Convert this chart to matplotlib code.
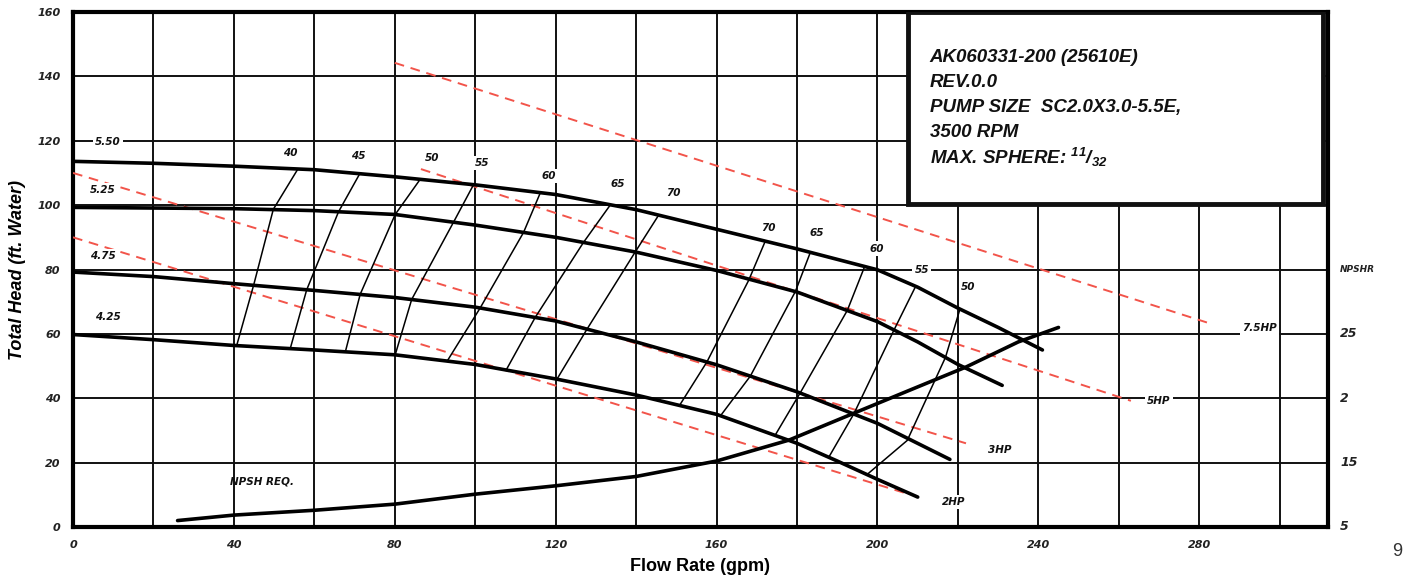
import numpy as np
import matplotlib.pyplot as plt
from matplotlib.patches import Rectangle

plt.rcParams['font.family'] = ['Liberation Sans', 'DejaVu Sans']
plt.rcParams['mathtext.fontset'] = 'custom'
plt.rcParams['mathtext.rm'] = 'Liberation Sans:bold:italic'
plt.rcParams['mathtext.it'] = 'Liberation Sans:bold:italic'

# ==============================
# Impeller curves (flow gpm, head ft)
# ==============================
flow_550 = [0, 20, 40, 60, 80, 100, 120, 140, 160, 180, 200, 210, 220, 230, 241]
head_550 = [113.6, 113.0, 112.1, 111.0, 108.8, 106.3, 103.3, 98.6, 92.5, 86.4, 79.9, 74.5, 68.0, 62.0, 55.0]

flow_525 = [0, 40, 60, 80, 100, 120, 140, 160, 180, 200, 210, 220, 231]
head_525 = [99.3, 98.9, 98.3, 97.1, 93.8, 90.0, 85.4, 79.7, 73.0, 63.8, 57.5, 50.5, 44.0]

flow_475 = [0, 20, 40, 60, 80, 100, 120, 140, 160, 180, 200, 218]
head_475 = [79.2, 77.8, 75.6, 73.5, 71.3, 68.3, 64.0, 57.5, 50.4, 42.0, 32.2, 21.0]

flow_425 = [0, 20, 40, 60, 80, 100, 120, 140, 160, 180, 190, 200, 210]
head_425 = [59.8, 58.2, 56.4, 55.0, 53.5, 50.5, 46.0, 41.0, 35.0, 26.0, 20.5, 14.8, 9.3]

impeller_names = ['5.50', '5.25', '4.75', '4.25']
impeller_label_pos = [(8.7, 119.7), (7.5, 104.8), (7.5, 84.3), (8.7, 65.1)]

# NPSH required
flow_npsh = [26, 40, 60, 80, 100, 120, 140, 160, 178, 195, 208, 222, 235, 245]
head_npsh = [2.0, 3.7, 5.2, 7.1, 10.2, 12.8, 15.7, 20.5, 27.0, 35.8, 42.5, 49.7, 57.5, 62.0]

# ==============================
# Efficiency lines: points on 5.50, 5.25, 4.75, 4.25
# ==============================
eff_names = ['40', '45', '50', '55', '60', '65', '70', '70', '65', '60', '55', '50']
eff_flows = [
    [55.9, 49.8, 44.9, 40.7],
    [71.4, 66.0, 58.1, 54.0],
    [86.3, 80.1, 71.4, 67.7],
    [99.6, 94.6, 84.2, 80.1],
    [116.2, 112.0, 101.2, 93.0],
    [133.6, 126.9, 114.9, 107.7],
    [145.6, 139.8, 127.8, 120.3],
    [172.1, 168.0, 157.6, 151.0],
    [183.3, 179.6, 168.4, 161.0],
    [196.8, 192.5, 180.8, 174.6],
    [209.5, 204.1, 194.1, 187.9],
    [220.5, 216.9, 207.4, 197.4],
]
eff_heads = [
    [111.2, 98.7, 75.1, 56.4],
    [110.0, 97.9, 73.7, 55.4],
    [108.0, 97.1, 72.3, 54.4],
    [106.4, 94.7, 70.7, 53.5],
    [103.9, 91.5, 68.0, 51.5],
    [100.1, 88.4, 65.1, 48.8],
    [96.9, 85.5, 61.5, 45.9],
    [88.8, 76.7, 51.3, 38.2],
    [85.3, 73.2, 46.9, 34.6],
    [80.9, 67.3, 41.7, 28.6],
    [74.8, 61.2, 35.1, 21.7],
    [67.7, 52.7, 26.9, 16.3],
]
eff_label_pos = [(54.0, 116.3), (70.9, 115.3), (89.3, 114.7), (101.7, 113.2),
                 (118.2, 109.1), (135.3, 106.7), (149.3, 103.9),
                 (172.9, 93.0), (185.0, 91.2), (199.8, 86.5), (211.0, 79.7), (222.6, 74.7)]

# ==============================
# Power lines (HP)
# ==============================
hp_names = ['7.5HP', '5HP', '3HP', '2HP']
hp_flows = [[80, 282], [86.5, 263], [0, 222], [0, 207]]
hp_heads = [[144.2, 63.5], [111.2, 39.2], [110.0, 26.0], [90.0, 10.5]]
hp_label_pos = [(295.0, 61.7), (270.0, 39.0), (230.3, 23.9), (219.0, 7.8)]

# right side NPSHR scale labels
npshr_labels = ['NPSHR', '25', '2', '15', '5']
npshr_pos = [80, 60, 40, 20, 0]

info_lines = ['AK060331-200 (25610E)', 'REV.0.0', 'PUMP SIZE  SC2.0X3.0-5.5E,',
              '3500 RPM', 'MAX. SPHERE: $^{11}$/$_{32}$']

# ==============================
# Figure
# ==============================
fig = plt.figure(figsize=(14.04, 5.78), dpi=100)
ax = fig.add_axes([73 / 1404, 51 / 578, 1255 / 1404, 515 / 578])
ax.set_xlim(0, 312)
ax.set_ylim(0, 160)

ax.set_xticks(np.arange(0, 281, 40))
ax.set_yticks(np.arange(0, 161, 20))
for xv in np.arange(20, 301, 20):
    ax.axvline(xv, color='#111111', lw=1.4, zorder=1)
for yv in np.arange(20, 141, 20):
    ax.axhline(yv, color='#111111', lw=1.4, zorder=1)
for s in ax.spines.values():
    s.set_linewidth(3)
ax.tick_params(length=0, pad=9)
for lab in ax.get_xticklabels() + ax.get_yticklabels():
    lab.set_family('DejaVu Sans')
    lab.set_fontweight('bold')
    lab.set_fontstyle('italic')
    lab.set_fontsize(8)
    lab.set_color('#222222')

ax.set_xlabel('Flow Rate (gpm)', fontsize=13, fontweight='bold', labelpad=6)
ax.set_ylabel('Total Head (ft. Water)', fontsize=13, fontweight='bold', fontstyle='italic', labelpad=8)

lbl = dict(family='DejaVu Sans', fontsize=7.5, fontweight='bold', fontstyle='italic',
           ha='center', va='center', color='#111111', zorder=6)
wbox = dict(facecolor='white', edgecolor='none', pad=1.5)

# HP lines
for name, fl, hd, pos in zip(hp_names, hp_flows, hp_heads, hp_label_pos):
    ax.plot(fl, hd, color='#f2544a', lw=1.4, dashes=(5, 3.5), zorder=3)
    ax.text(pos[0], pos[1], name, bbox=wbox, **lbl)

# impeller curves
for fl, hd, name, pos in zip([flow_550, flow_525, flow_475, flow_425],
                             [head_550, head_525, head_475, head_425],
                             impeller_names, impeller_label_pos):
    ax.plot(fl, hd, color='black', lw=2.6, solid_capstyle='round', zorder=4)
    ax.text(pos[0], pos[1], name, bbox=wbox, **lbl)

# efficiency lines
for fl, hd in zip(eff_flows, eff_heads):
    ax.plot(fl, hd, color='black', lw=1.1, zorder=3)
for name, pos in zip(eff_names, eff_label_pos):
    ax.text(pos[0], pos[1], name, bbox=wbox, **lbl)

# NPSH curve
ax.plot(flow_npsh, head_npsh, color='black', lw=2.6, solid_capstyle='round', zorder=4)
ax.text(47, 14, 'NPSH REQ.', **lbl)

# right side labels
for t, yv in zip(npshr_labels, npshr_pos):
    ax.text(315, yv, t, family='DejaVu Sans', fontsize=6.5 if t == 'NPSHR' else 9,
            fontweight='bold', fontstyle='italic', ha='left', va='center',
            color='#222222', clip_on=False)

# info box
ax.add_patch(Rectangle((207.5, 100.5), 103.2, 59.5, facecolor='white', edgecolor='#111111',
                       lw=3.5, zorder=7))
for i, t in enumerate(info_lines):
    ax.text(213, 146 - i * 7.8, t, fontsize=13.5, fontweight='bold', fontstyle='italic',
            ha='left', va='center', color='#111111', zorder=8)

fig.text(1402 / 1404, 26 / 578, '9', fontsize=13, ha='right', va='center', color='#333333')

fig.savefig('out.png', dpi=100)
